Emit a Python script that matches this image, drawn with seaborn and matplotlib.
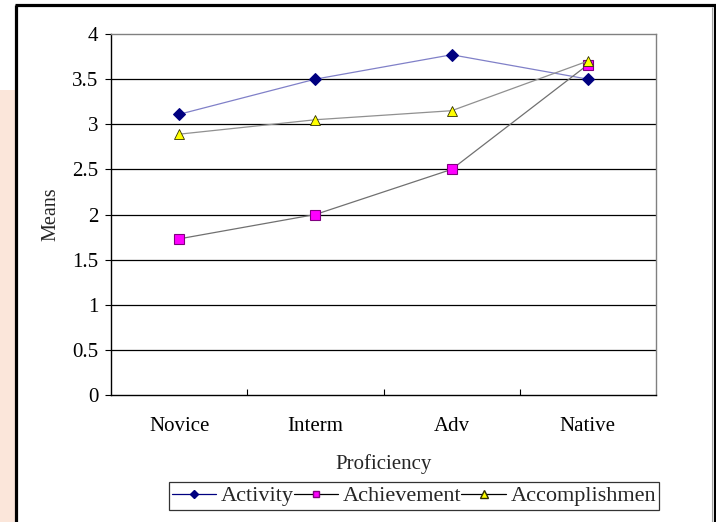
import matplotlib
matplotlib.use("Agg")
import matplotlib.pyplot as plt
from matplotlib.lines import Line2D
from matplotlib.patches import Rectangle
import seaborn as sns

# Mean scores by proficiency group
categories = ["Novice", "Interm", "Adv", "Native"]
activity = [3.11, 3.50, 3.77, 3.50]
achievement = [1.73, 2.00, 2.50, 3.66]
accomplishment = [2.89, 3.05, 3.15, 3.70]
y_ticks = [0, 0.5, 1, 1.5, 2, 2.5, 3, 3.5, 4]
y_tick_labels = ["0", "0.5", "1", "1.5", "2", "2.5", "3", "3.5", "4"]
series_names = ["Activity", "Achievement", "Accomplishmen"]

sns.set_theme(style="white")
plt.rcParams["font.family"] = ["Liberation Serif", "DejaVu Serif"]

W, H = 716, 522
fig = plt.figure(figsize=(W / 100, H / 100), dpi=100)
fig.patch.set_facecolor("white")

# peach strip on the far left, outside the frame
fig.add_artist(Rectangle((0, 0), 15 / W, 1 - 90 / H, transform=fig.transFigure,
                         facecolor="#fbe6da", edgecolor="none", zorder=0))

# outer frame
def fline(x0, y0, x1, y1, color, lw):
    fig.add_artist(Line2D([x0 / W, x1 / W], [1 - y0 / H, 1 - y1 / H],
                          transform=fig.transFigure, color=color, lw=lw,
                          solid_capstyle="butt", zorder=5))

fline(16, 5, 16, H, "black", 2.3)
fline(15, 5, 716, 5, "black", 2.3)
fline(715, 4, 715, H, "black", 2.3)
fline(712, 7, 712, H, "#a0a0a0", 0.8)

left, right, top, bottom = 111, 656, 34, 395
ax = fig.add_axes([left / W, 1 - bottom / H, (right - left) / W, (bottom - top) / H])
ax.set_facecolor("white")

# grid lines behind the series
for v in y_ticks[1:-1]:
    ax.axhline(v, color="black", lw=0.9, zorder=1)

sns.lineplot(x=categories, y=activity, ax=ax, color="#8080c8", lw=0.9,
             marker="D", markersize=6, markerfacecolor="#000080",
             markeredgecolor="#000080", legend=False, zorder=3)
sns.lineplot(x=categories, y=achievement, ax=ax, color="#707070", lw=0.9,
             marker="s", markersize=6.5, markerfacecolor="#ff00ff",
             markeredgecolor="#800080", markeredgewidth=0.8, legend=False, zorder=3)
sns.lineplot(x=categories, y=accomplishment, ax=ax, color="#909090", lw=0.9,
             marker="^", markersize=7.5, markerfacecolor="#ffff00",
             markeredgecolor="#303000", markeredgewidth=0.6, legend=False, zorder=4)

ax.set_xlim(-0.5, 3.5)
ax.set_ylim(0, 4)
ax.set_yticks(y_ticks)
ax.set_yticklabels(y_tick_labels)
ax.set_xticks(range(len(categories)))
ax.set_xticklabels(categories)
ax.set_xticks([0.5, 1.5, 2.5], minor=True)

ax.tick_params(axis="x", which="major", length=0, pad=16, labelsize=15, colors="black")
ax.tick_params(axis="x", which="minor", direction="in", length=4, width=0.8,
               color="black", bottom=True)
ax.tick_params(axis="y", which="major", direction="out", length=4, width=0.8,
               pad=5, labelsize=15, colors="black", left=True)

for side in ["left", "bottom"]:
    ax.spines[side].set_color("black")
    ax.spines[side].set_linewidth(1.0)
for side in ["top", "right"]:
    ax.spines[side].set_color("#808080")
    ax.spines[side].set_linewidth(1.0)

ax.set_xlabel("Proficiency", fontsize=15)
ax.set_ylabel("Means", fontsize=14.5)
ax.xaxis.set_label_coords(0.5, -0.165)
ax.yaxis.set_label_coords(-0.092, 0.5)

handles = [
    Line2D([], [], color="#000080", lw=0.9, marker="D", markersize=4.5,
           markerfacecolor="#000080", markeredgecolor="#000080"),
    Line2D([], [], color="black", lw=0.9, marker="s", markersize=5,
           markerfacecolor="#ff00ff", markeredgecolor="#800080"),
    Line2D([], [], color="black", lw=0.9, marker="^", markersize=5.5,
           markerfacecolor="#ffff00", markeredgecolor="#303000"),
]
leg = fig.legend(handles, series_names, loc="center", ncol=3,
                 bbox_to_anchor=(414 / W, 1 - 496 / H), fontsize=16,
                 frameon=True, fancybox=False, handlelength=2.0,
                 handletextpad=0.2, columnspacing=0.0, borderpad=0.15,
                 borderaxespad=0)
leg.get_frame().set_edgecolor("black")
leg.get_frame().set_linewidth(0.9)

fig.savefig("out.png", dpi=100, facecolor="white")
